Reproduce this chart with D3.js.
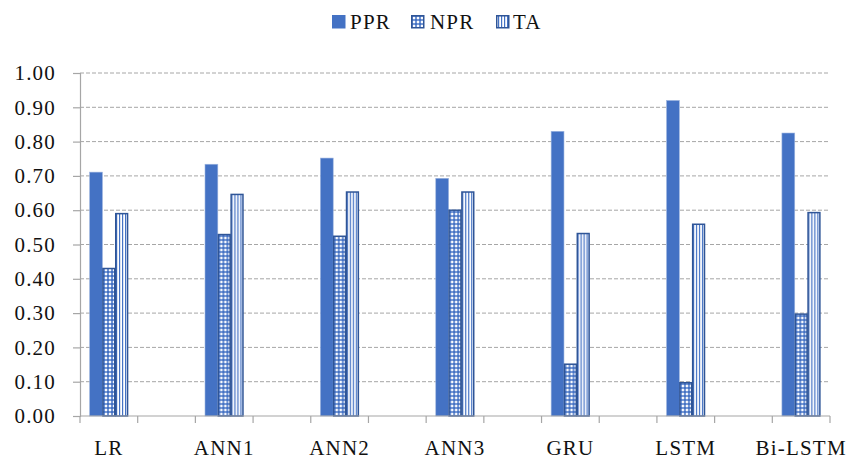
<!DOCTYPE html>
<html>
<head>
<meta charset="utf-8">
<script src="https://cdn.jsdelivr.net/npm/d3@7"></script>
<style>
html,body{margin:0;padding:0;background:#fff;}
svg{display:block;}
text{font-family:"Liberation Serif","Times New Roman",serif;fill:#111;}
</style>
</head>
<body>
<svg id="chart" width="847" height="459"></svg>
<script>
const categories = ["LR","ANN1","ANN2","ANN3","GRU","LSTM","Bi-LSTM"];
const series = ["PPR","NPR","TA"];
const PPR = [0.711,0.734,0.752,0.693,0.830,0.920,0.825];
const NPR = [0.430,0.529,0.524,0.600,0.151,0.097,0.297];
const TA  = [0.590,0.646,0.653,0.653,0.532,0.559,0.593];
const yTicks = [0,0.1,0.2,0.3,0.4,0.5,0.6,0.7,0.8,0.9,1.0];
const values = {PPR, NPR, TA};

const W = 847, H = 459;
const m = {left:80, right:17, top:73, bottom:43};
const svg = d3.select("#chart");
const blue = "#4472C4", dark = "#2F5597", grid = "#A6A6A6";
const FS = "21px", LS = "1.2px";

// patterns
const defs = svg.append("defs");
const pn = defs.append("pattern").attr("id","npr").attr("patternUnits","userSpaceOnUse")
  .attr("width",4).attr("height",4);
pn.append("rect").attr("width",4).attr("height",4).attr("fill",blue);
pn.append("polygon").attr("points","2,0.3 3.7,2 2,3.7 0.3,2").attr("fill","#fff");
const pt = defs.append("pattern").attr("id","ta").attr("patternUnits","userSpaceOnUse")
  .attr("width",3).attr("height",4);
pt.append("rect").attr("width",3).attr("height",4).attr("fill","#fff");
pt.append("rect").attr("x",0).attr("width",1.2).attr("height",4).attr("fill",blue);

const fills = {PPR: blue, NPR: "url(#npr)", TA: "url(#ta)"};
const strokes = {PPR: "#9DB5E0", NPR: dark, TA: dark};

// slots: categories at even slots, empty slots between
const slots = d3.range(categories.length*2 - 1);
const x = d3.scaleBand().domain(slots).range([m.left, W - m.right]).padding(0);
const x1 = d3.scaleBand().domain(series).range([0, x.bandwidth()]).paddingOuter(0.75).paddingInner(0);
const y = d3.scaleLinear().domain([0,1]).range([H - m.bottom, m.top]);

// gridlines
svg.append("g").selectAll("line").data(yTicks.filter(d=>d>0)).join("line")
  .attr("x1", m.left).attr("x2", W - m.right)
  .attr("y1", d=>y(d)).attr("y2", d=>y(d))
  .attr("stroke", grid).attr("stroke-width",1).attr("stroke-dasharray","4,2");

// y axis
const yAxis = d3.axisLeft(y).tickValues(yTicks).tickFormat(d3.format(".2f")).tickSize(7).tickPadding(17);
const gy = svg.append("g").attr("transform",`translate(${m.left},0)`).call(yAxis);
gy.select(".domain").attr("stroke",grid).attr("stroke-width",1.2);
gy.selectAll(".tick line").attr("stroke",grid).attr("stroke-width",1.2);
gy.selectAll(".tick text").style("font-size",FS).style("letter-spacing",LS)
  .style("font-family",'"Liberation Serif",serif').attr("fill","#111");

// bars
const gCat = svg.append("g").selectAll("g").data(categories).join("g")
  .attr("transform",(d,i)=>`translate(${x(i*2)},0)`);
gCat.selectAll("rect").data((d,i)=>series.map(s=>({s, v:values[s][i]}))).join("rect")
  .attr("x", d=>x1(d.s) + (d.s==="PPR"?0:0.5))
  .attr("width", d=>x1.bandwidth() - (d.s==="PPR"?0:1))
  .attr("y", d=>y(d.v))
  .attr("height", d=>y(0) - y(d.v))
  .attr("fill", d=>fills[d.s])
  .attr("stroke", d=>strokes[d.s])
  .attr("stroke-width", d=>d.s==="PPR"?0.6:1.5);

// x axis
const gx = svg.append("g").attr("transform",`translate(0,${y(0)})`);
gx.append("line").attr("x1",m.left).attr("x2",W-m.right).attr("stroke",grid).attr("stroke-width",1.2);
const bounds = slots.map(s=>x(s)).concat([W - m.right]);
gx.selectAll(".tk").data(bounds).join("line").attr("class","tk")
  .attr("x1",d=>d).attr("x2",d=>d).attr("y1",0).attr("y2",7)
  .attr("stroke",grid).attr("stroke-width",1.2);
gx.selectAll(".lbl").data(categories).join("text").attr("class","lbl")
  .attr("x",(d,i)=>x(i*2)+x.bandwidth()/2).attr("y",39)
  .attr("text-anchor","middle").style("font-size",FS).style("letter-spacing",LS)
  .text(d=>d);

// legend
const legItems = [
  {s:"PPR", sx:332, tx:350},
  {s:"NPR", sx:411, tx:430},
  {s:"TA",  sx:496, tx:513}
];
const lg = svg.append("g");
lg.selectAll("rect").data(legItems).join("rect")
  .attr("x",d=>d.sx+ (d.s==="PPR"?0:0.75)).attr("y",d=>15+(d.s==="PPR"?0:0.75))
  .attr("width",d=>d.s==="PPR"?13.5:12).attr("height",d=>d.s==="PPR"?13.5:12)
  .attr("fill",d=>fills[d.s]).attr("stroke",d=>d.s==="PPR"?"none":dark).attr("stroke-width",1.5);
lg.selectAll("text").data(legItems).join("text")
  .attr("x",d=>d.tx).attr("y",28.5).style("font-size",FS).style("letter-spacing",LS)
  .text(d=>d.s);
</script>
</body>
</html>
